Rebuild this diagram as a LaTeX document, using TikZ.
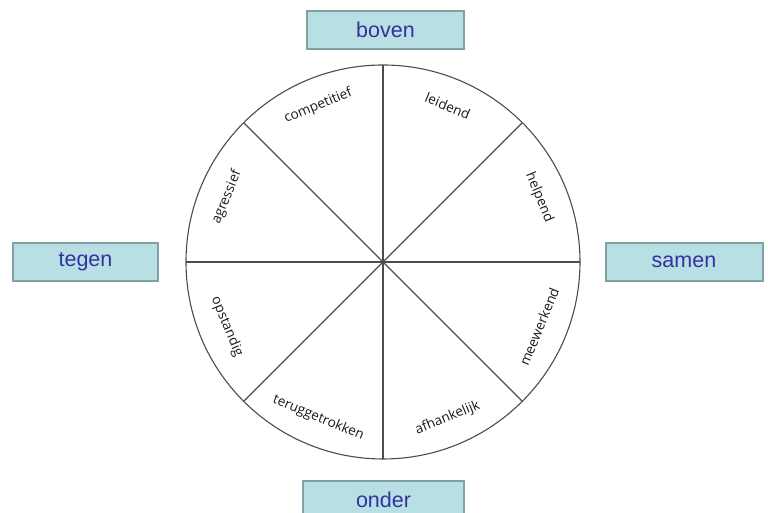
\documentclass[tikz,border=0pt]{standalone}
\usepackage{fontspec}
\setmainfont{Liberation Sans}
\newfontfamily\wielfont{Open Sans}
\usetikzlibrary{shapes,positioning}
\definecolor{boxfill}{RGB}{184,223,227}
\definecolor{boxrand}{RGB}{128,160,163}
\definecolor{boxtekst}{RGB}{50,50,160}

\begin{document}
\begin{tikzpicture}[x=0.5pt, y=0.5pt,
  richting/.style={rectangle, draw=boxrand, fill=boxfill, line width=1pt, minimum width=78.5pt, minimum height=19pt, inner sep=0pt, text=boxtekst, font=\fontsize{10.75}{12}\selectfont},
  sector/.style={font=\wielfont\fontsize{6.8}{8}\selectfont, text=black!90, inner sep=1pt},
  spaak/.style={draw=black!70, line width=0.55pt}]
\clip (0,0) rectangle (768,513);

% het wiel
\node[circle, spaak, minimum size=197pt, inner sep=0pt, outer sep=0pt] (wiel) at (383,251) {};
\draw[spaak] (wiel.90) -- (wiel.270);
\draw[spaak] (wiel.180) -- (wiel.0);
\draw[spaak] (wiel.135) -- (wiel.-45);
\draw[spaak] (wiel.45) -- (wiel.225);

% de acht sectoren
\node[sector, rotate=22.5] (competitief) at ([shift={(112.5:169)}]wiel.center) {competitief};
\node[sector, rotate=-22.5] (leidend) at ([shift={(67.5:169)}]wiel.center) {leidend};
\node[sector, rotate=-67.5] (helpend) at ([shift={(22.5:169)}]wiel.center) {helpend};
\node[sector, rotate=67.5] (meewerkend) at ([shift={(-22.5:169)}]wiel.center) {meewerkend};
\node[sector, rotate=22.5] (afhankelijk) at ([shift={(-67.5:169)}]wiel.center) {afhankelijk};
\node[sector, rotate=-22.5] (teruggetrokken) at ([shift={(-112.5:169)}]wiel.center) {teruggetrokken};
\node[sector, rotate=-67.5] (opstandig) at ([shift={(-157.5:169)}]wiel.center) {opstandig};
\node[sector, rotate=67.5] (agressief) at ([shift={(157.5:169)}]wiel.center) {agressief};

% de vier richtingen
\node[richting] (boven) at (385.5,483) {boven};
\node[richting, minimum width=72.5pt] (tegen) at (85.5,251) {tegen};
\node[richting] (samen) at (684,251) {samen};
\node[richting, minimum width=80.5pt] (onder) at (383.5,13) {onder};
\end{tikzpicture}
\end{document}
